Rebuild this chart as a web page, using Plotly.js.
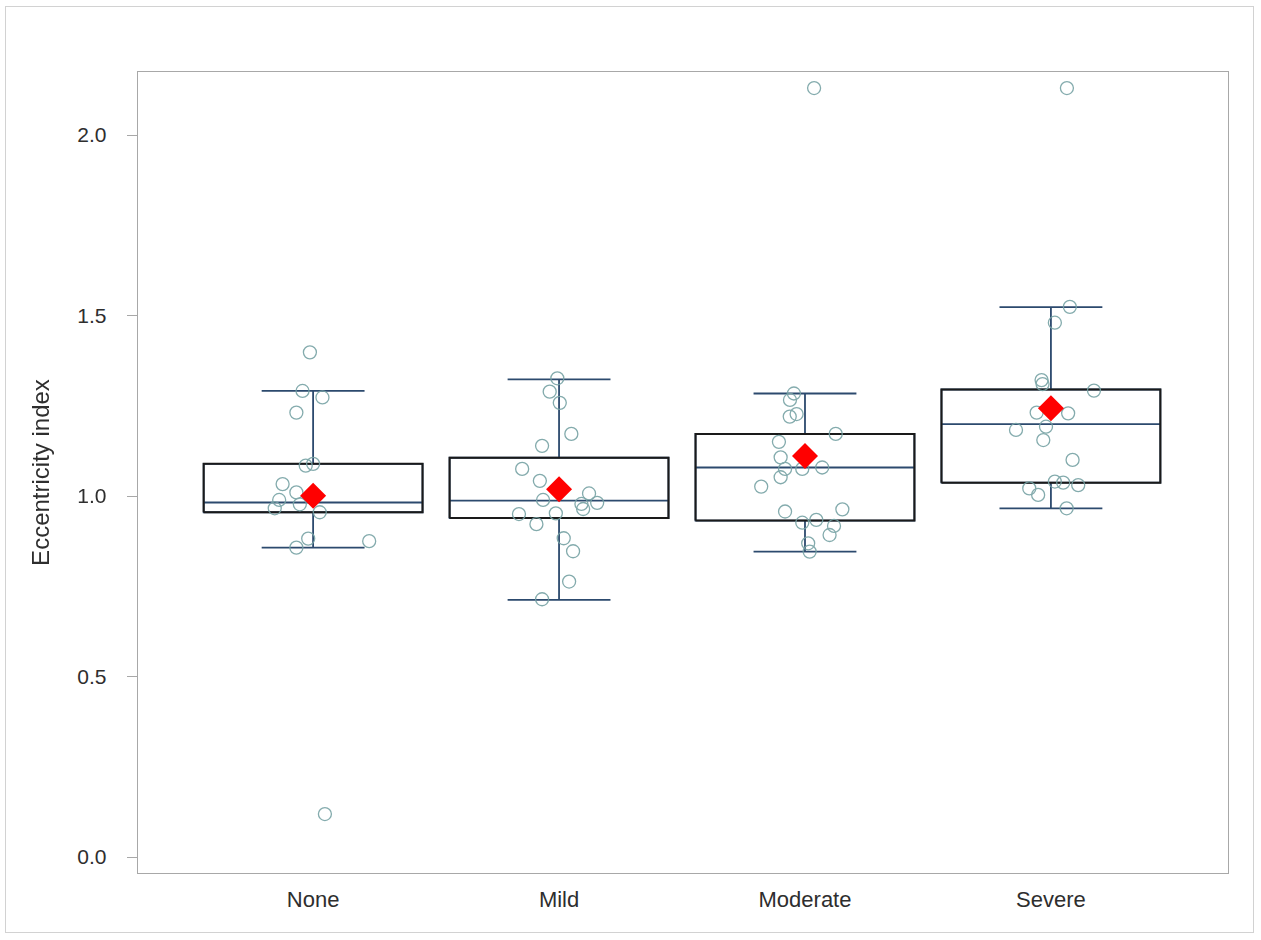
<!DOCTYPE html>
<html>
<head>
<meta charset="utf-8">
<script src="https://cdn.plot.ly/plotly-3.0.1.min.js"></script>
<style>
  html, body { margin: 0; padding: 0; background: #ffffff; }
  #wrap { position: relative; width: 1261px; height: 940px; }
  #chart { width: 1261px; height: 940px; }
  #frame { position: absolute; left: 5px; top: 6px; width: 1247px; height: 925px;
           border: 1px solid #d2d2d2; pointer-events: none; }
</style>
</head>
<body>
<div id="wrap"><div id="chart"></div><div id="frame"></div></div>
<script>
// ---- data ----
const categories = ["None", "Mild", "Moderate", "Severe"];

const q1Values      = [0.955, 0.939, 0.932, 1.037];
const medianValues  = [0.982, 0.987, 1.079, 1.199];
const q3Values      = [1.089, 1.106, 1.172, 1.295];
const lowerWhisker  = [0.857, 0.712, 0.846, 0.966];
const upperWhisker  = [1.291, 1.323, 1.284, 1.523];
const meanValues    = [1.001, 1.019, 1.111, 1.243];

const noneValues = [1.398, 1.291, 1.273, 1.231, 1.084, 1.089, 1.033, 1.010, 0.989, 0.966, 0.977, 0.955, 0.882, 0.857, 0.875, 0.119];
const noneJitter = [-0.013, -0.043, 0.038, -0.068, -0.030, 0.000, -0.124, -0.068, -0.138, -0.156, -0.054, 0.027, -0.020, -0.068, 0.228, 0.048];

const mildValues = [1.326, 1.289, 1.258, 1.172, 1.139, 1.075, 1.042, 0.989, 1.007, 0.978, 0.981, 0.964, 0.950, 0.952, 0.922, 0.883, 0.847, 0.763, 0.714];
const mildJitter = [-0.007, -0.038, 0.003, 0.050, -0.069, -0.150, -0.078, -0.065, 0.122, 0.091, 0.155, 0.098, -0.163, -0.013, -0.092, 0.019, 0.057, 0.041, -0.069];

const moderateValues = [1.284, 1.266, 1.220, 1.227, 1.172, 1.150, 1.107, 1.075, 1.075, 1.079, 1.052, 1.026, 0.957, 0.963, 0.926, 0.934, 0.917, 0.892, 0.869, 0.846, 2.130];
const moderateJitter = [-0.045, -0.061, -0.062, -0.034, 0.125, -0.106, -0.099, -0.081, -0.011, 0.070, -0.099, -0.178, -0.081, 0.152, -0.011, 0.046, 0.118, 0.100, 0.013, 0.019, 0.037];

const severeValues = [1.524, 1.480, 1.321, 1.310, 1.292, 1.231, 1.229, 1.192, 1.183, 1.155, 1.100, 1.040, 1.037, 1.030, 1.021, 1.003, 0.966, 2.130];
const severeJitter = [0.077, 0.016, -0.038, -0.034, 0.175, -0.058, 0.070, -0.020, -0.142, -0.031, 0.088, 0.016, 0.050, 0.111, -0.088, -0.052, 0.064, 0.065];

const yTicks = [0, 0.5, 1.0, 1.5, 2.0];

// ---- build traces ----
const positions = categories.map((c, i) => i);
const groupValues = [noneValues, mildValues, moderateValues, severeValues];
const groupJitter = [noneJitter, mildJitter, moderateJitter, severeJitter];

const BOX_W = 0.89;
const FONT = "'Liberation Sans', Arial, sans-serif";
const WHISKER_COLOR = '#2c4a6e';

const traces = [];

// box with whiskers / caps / median (blue)
traces.push({
  type: 'box',
  x: positions,
  q1: q1Values,
  median: medianValues,
  q3: q3Values,
  lowerfence: lowerWhisker,
  upperfence: upperWhisker,
  width: BOX_W,
  whiskerwidth: 0.47,
  boxpoints: false,
  fillcolor: 'rgba(0,0,0,0)',
  line: { color: WHISKER_COLOR, width: 1.8 },
  hoverinfo: 'skip',
  showlegend: false
});

// black box outlines
positions.forEach((p, i) => {
  const h = BOX_W / 2;
  traces.push({
    type: 'scatter',
    mode: 'lines',
    x: [p - h, p + h, p + h, p - h, p - h],
    y: [q1Values[i], q1Values[i], q3Values[i], q3Values[i], q1Values[i]],
    line: { color: '#1a1a1a', width: 2 },
    hoverinfo: 'skip',
    showlegend: false
  });
});

// jittered observations
groupValues.forEach((vals, i) => {
  traces.push({
    type: 'scatter',
    mode: 'markers',
    x: groupJitter[i].map(j => positions[i] + j),
    y: vals,
    marker: { symbol: 'circle-open', size: 13, color: '#76a2a4', line: { width: 1.3, color: '#76a2a4' } },
    opacity: 0.9,
    hoverinfo: 'y',
    showlegend: false
  });
});

// means
traces.push({
  type: 'scatter',
  mode: 'markers',
  x: positions,
  y: meanValues,
  marker: { symbol: 'diamond', size: 20, color: '#ff0000', line: { width: 0 } },
  hoverinfo: 'y',
  showlegend: false
});

const layout = {
  width: 1261,
  height: 940,
  margin: { l: 138, r: 33, t: 72, b: 67 },
  paper_bgcolor: '#ffffff',
  plot_bgcolor: '#ffffff',
  showlegend: false,
  font: { family: FONT, color: '#333333', size: 18 },
  xaxis: {
    range: [-0.712, 3.72],
    tickvals: positions,
    ticktext: categories,
    showgrid: false,
    zeroline: false,
    showline: true,
    mirror: true,
    linecolor: '#a8a8a8',
    linewidth: 1.3,
    ticks: '',
    ticklabelstandoff: 6,
    tickfont: { family: FONT, size: 22, color: '#2e2e2e' }
  },
  yaxis: {
    range: [-0.0443, 2.1745],
    tickvals: yTicks,
    tickformat: '.1f',
    showgrid: false,
    zeroline: false,
    showline: true,
    mirror: true,
    linecolor: '#a8a8a8',
    linewidth: 1.3,
    ticks: 'outside',
    ticklen: 10,
    tickcolor: '#a8a8a8',
    tickwidth: 1,
    ticklabelstandoff: 16,
    tickfont: { family: FONT, size: 21, color: '#2e2e2e' },
    title: { text: 'Eccentricity index', font: { family: FONT, size: 24, color: '#2e2e2e' }, standoff: 21 }
  }
};

Plotly.newPlot('chart', traces, layout, { staticPlot: true, displayModeBar: false });
</script>
</body>
</html>
